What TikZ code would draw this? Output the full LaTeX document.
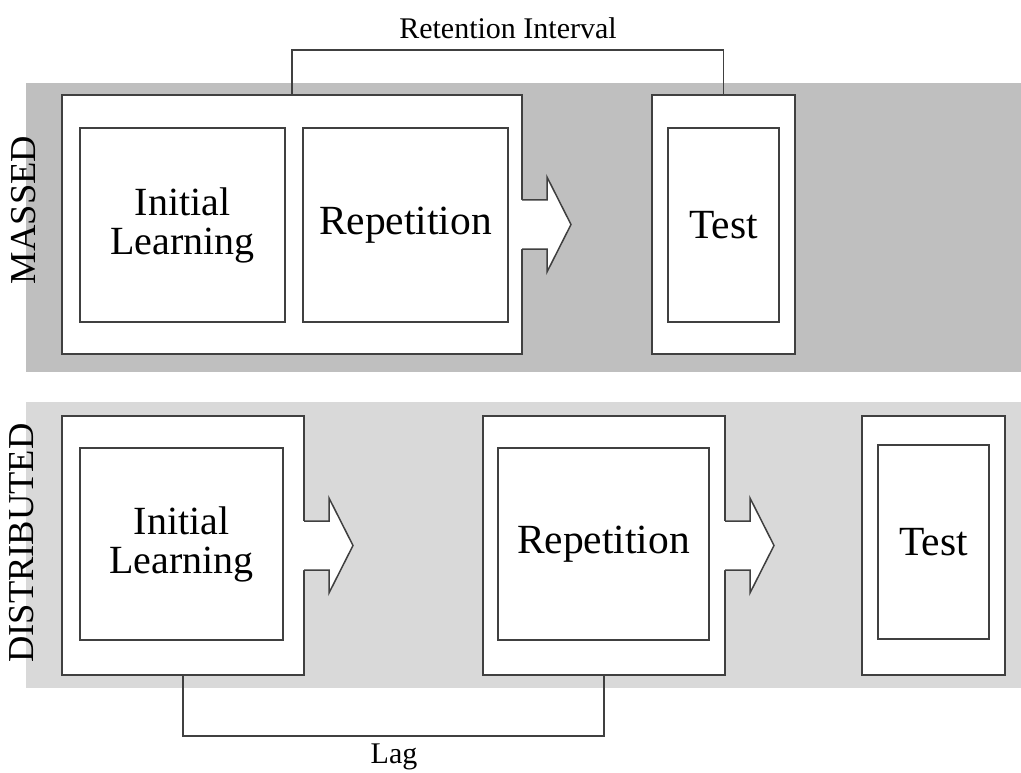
\documentclass[tikz,border=0pt]{standalone}
\usepackage{fontspec}
\setmainfont{Liberation Serif}
\usetikzlibrary{calc}
\definecolor{massedband}{gray}{0.75}
\definecolor{distband}{gray}{0.85}
\definecolor{edge}{gray}{0.25}

\begin{document}
\begin{tikzpicture}[x=1pt,y=-1pt,
  frame/.style={draw=edge, line width=1.5pt},
  outerbox/.style={frame, fill=white, inner sep=0pt, outer sep=0pt, minimum height=259pt},
  innerbox/.style={frame, fill=white, inner sep=0pt, outer sep=0pt, align=center,
    font=\fontsize{40}{39}\selectfont},
  bigword/.style={font=\fontsize{41.5}{44}\selectfont},
  caption/.style={font=\fontsize{30}{34}\selectfont},
  side/.style={rotate=90, font=\fontsize{36.5}{40}\selectfont},
  headarrow/.pic={
    \path[fill=white] (-1,-24.5) -- (25,-24.5) -- (25,-47.5) -- (49,0)
      -- (25,47.5) -- (25,24.5) -- (-1,24.5) -- cycle;
    \draw[frame] (0,-24.5) -- (25,-24.5) -- (25,-47.5) -- (49,0)
      -- (25,47.5) -- (25,24.5) -- (0,24.5);
  }]
\useasboundingbox (0,0) rectangle (1021,773);

% background bands of the two schedules
\fill[massedband] (26,83) rectangle (1021,372);
\fill[distband] (26,402) rectangle (1021,688);

\node[side] (massed) at (24,210) {MASSED};
\node[side] (distributed) at (22,543) {DISTRIBUTED};

% massed schedule
\node[outerbox, minimum width=460pt] (mA) at (292,224.5) {};
\pic at (mA.east) {headarrow};
\node[innerbox, minimum width=205pt, minimum height=194pt] (mIL) at (182.5,225) {Initial\\Learning};
\node[innerbox, bigword, minimum width=205pt, minimum height=194pt] (mRep) at (405.5,225) {Repetition};
\node[outerbox, minimum width=143pt] (mT) at (723.5,224.5) {};
\node[innerbox, bigword, minimum width=111pt, minimum height=194pt] (mTest) at (723.5,225) {Test};

% distributed schedule
\node[outerbox, minimum width=242pt] (dA) at (183,545.5) {};
\pic at (dA.east) {headarrow};
\node[innerbox, minimum width=203pt, minimum height=192pt] (dIL) at (181.5,544) {Initial\\Learning};
\node[outerbox, minimum width=242pt] (dR) at (604,545.5) {};
\pic at (dR.east) {headarrow};
\node[innerbox, bigword, minimum width=211pt, minimum height=192pt] (dRep) at (603.5,544) {Repetition};
\node[outerbox, minimum width=143pt] (dT) at (933.5,545.5) {};
\node[innerbox, bigword, minimum width=111pt, minimum height=194pt] (dTest) at (933.5,542) {Test};

% interval brackets
\draw[frame] (mA.north) -- ++(0,-45) coordinate (riL) -| (mT.north);
\node[caption] (ri) at (508,28) {Retention Interval};
\draw[frame] (dA.south) -- ++(0,61) coordinate (lagL) -| (dR.south);
\node[caption] (lag) at (394,757) {Lag};
\end{tikzpicture}
\end{document}
